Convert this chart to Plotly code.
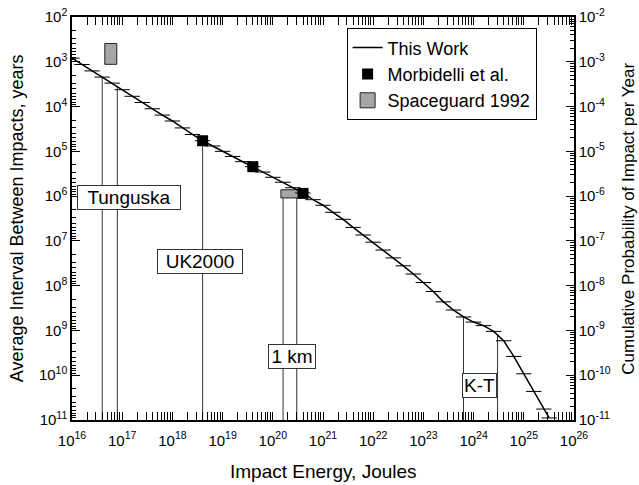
import plotly.graph_objects as go

# ---------------- data ----------------
# "This Work" cumulative curve: impact energy (J) vs average interval (years)
energy_j = [1.0e16, 1.58e16, 2.51e16, 3.98e16, 6.31e16,
            1.0e17, 1.58e17, 2.51e17, 3.98e17, 6.31e17,
            1.0e18, 1.58e18, 2.51e18, 3.98e18, 6.31e18,
            1.0e19, 1.58e19, 2.51e19, 3.98e19, 6.31e19,
            1.0e20, 1.58e20, 2.51e20, 3.98e20, 6.31e20,
            1.0e21, 1.58e21, 2.51e21, 3.98e21, 6.31e21,
            1.0e22, 1.58e22, 2.51e22, 3.98e22, 6.31e22,
            1.0e23, 1.58e23, 2.51e23, 3.98e23, 6.31e23,
            1.0e24, 1.58e24, 2.51e24, 3.98e24, 6.31e24,
            1.0e25, 1.58e25, 2.51e25, 3.2e25]
interval_yr = [8.3e2, 1.15e3, 1.6e3, 2.2e3, 3.0e3,
               4.2e3, 5.9e3, 8.1e3, 1.12e4, 1.55e4,
               2.1e4, 3.0e4, 4.2e4, 5.8e4, 7.6e4,
               1.0e5, 1.3e5, 1.7e5, 2.2e5, 2.9e5,
               3.8e5, 4.9e5, 6.5e5, 8.5e5, 1.2e6,
               1.6e6, 2.3e6, 3.3e6, 5.0e6, 7.4e6,
               1.07e7, 1.6e7, 2.4e7, 3.6e7, 5.5e7,
               8.5e7, 1.35e8, 2.3e8, 3.5e8, 5.0e8,
               6.5e8, 7.8e8, 1.05e9, 1.7e9, 3.8e9,
               9.3e9, 2.3e10, 5.7e10, 9.0e10]

# Morbidelli et al.
morb_energy = [4.0e18, 4.0e19, 4.0e20]
morb_interval = [5.8e4, 2.2e5, 8.7e5]

# Spaceguard 1992 boxes
sg_energy_lo = [4.5e16, 1.45e20]
sg_energy_hi = [7.8e16, 3.5e20]
sg_interval_lo = [3.9e2, 7.2e5]
sg_interval_hi = [1.14e3, 1.1e6]

# Event marker lines (energy, interval at top of line)
event_energy = [4.0e16, 8.0e16, 4.0e18, 1.6e20, 3.0e20, 6.3e23, 3.0e24]
event_top = [2.3e3, 3.5e3, 5.8e4, 1.1e6, 1.1e6, 5.0e8, 1.3e9]
event_labels = ["Tunguska", "UK2000", "1 km", "K-T"]

x_tick_exp = list(range(16, 27))
y_tick_exp = list(range(2, 12))

# ---------------- figure ----------------
FONT = "Arial, Liberation Sans, sans-serif"
fig = go.Figure()

# vertical event lines
for e, t in zip(event_energy, event_top):
    fig.add_trace(go.Scatter(x=[e, e], y=[t, 1e11], mode="lines",
                             line=dict(color="#333333", width=1),
                             showlegend=False, hoverinfo="skip"))

# spaceguard boxes
sx, sy = [], []
for x0, x1, y0, y1 in zip(sg_energy_lo, sg_energy_hi, sg_interval_lo, sg_interval_hi):
    sx += [x0, x1, x1, x0, x0, None]
    sy += [y0, y0, y1, y1, y0, None]
fig.add_trace(go.Scatter(x=sx, y=sy, mode="lines", fill="toself",
                         fillcolor="#a6a6a6", line=dict(color="#222222", width=1),
                         showlegend=False, hoverinfo="skip"))

# This Work curve
fig.add_trace(go.Scatter(x=energy_j, y=interval_yr, mode="lines",
                         line=dict(color="black", width=1.5),
                         name="This Work", legendrank=1))
fig.add_trace(go.Scatter(x=energy_j, y=interval_yr, mode="markers",
                         marker=dict(symbol="line-ew", size=11,
                                     line=dict(color="black", width=1)),
                         showlegend=False, hoverinfo="skip"))

# Morbidelli
fig.add_trace(go.Scatter(x=morb_energy, y=morb_interval, mode="markers",
                         marker=dict(symbol="square", size=11, color="black"),
                         name="Morbidelli et al.", legendrank=2))

# legend entry for Spaceguard boxes
fig.add_trace(go.Scatter(x=[None], y=[None], mode="markers",
                         marker=dict(symbol="square", size=15, color="#a6a6a6",
                                     line=dict(color="#222222", width=1)),
                         name="Spaceguard 1992", legendrank=3))

# dummy trace for right axis
fig.add_trace(go.Scatter(x=[1e16], y=[1e-5], yaxis="y2", mode="markers",
                         marker=dict(opacity=0), showlegend=False, hoverinfo="skip"))

def minor_vals(lo, hi):
    vals = []
    for d in range(lo, hi):
        for m in range(2, 10):
            vals.append(m * 10.0 ** d)
    return vals

axis_common = dict(type="log", showgrid=False, zeroline=False, showline=True,
                   automargin=False,
                   linecolor="black", linewidth=1.5, ticks="inside", ticklen=8,
                   tickwidth=1.2, tickcolor="black",
                   tickfont=dict(family=FONT, size=15, color="black"))

fig.update_layout(
    width=639, height=485,
    margin=dict(l=72, r=65, t=17, b=65, autoexpand=False),
    paper_bgcolor="white", plot_bgcolor="white",
    font=dict(family=FONT, color="black"),
    xaxis=dict(axis_common, range=[16, 26], mirror="allticks",
               ticklabelstandoff=6,
               tickmode="array", tickvals=[10.0 ** e for e in x_tick_exp],
               ticktext=["10<sup>%d</sup>" % e for e in x_tick_exp],
               minor=dict(tickmode="array", tickvals=minor_vals(16, 26),
                          ticks="inside", ticklen=4, tickcolor="black")),
    yaxis=dict(axis_common, range=[11, 2],
               tickmode="array", tickvals=[10.0 ** e for e in y_tick_exp],
               ticktext=["10<sup>%d</sup>" % e for e in y_tick_exp],
               minor=dict(tickmode="array", tickvals=minor_vals(2, 11),
                          ticks="inside", ticklen=4, tickcolor="black")),
    yaxis2=dict(axis_common, range=[-11, -2], overlaying="y", side="right",
                tickmode="array", tickvals=[10.0 ** -e for e in y_tick_exp],
                ticktext=["10<sup>-%d</sup>" % e for e in y_tick_exp],
                minor=dict(tickmode="array", tickvals=minor_vals(-11, -2),
                           ticks="inside", ticklen=4, tickcolor="black")),
    legend=dict(x=0.547, y=0.972, xanchor="left", yanchor="top",
                bordercolor="black", borderwidth=1, bgcolor="white",
                font=dict(family=FONT, size=18, color="black"),
                tracegroupgap=0, itemsizing="trace"),
    showlegend=True,
)

# event label boxes
label_pos = [(17.13, 6.04, 100), (18.55, 7.47, 82), (20.39, 9.58, 44), (24.12, 10.23, 31)]
for txt, (lx, ly, w) in zip(event_labels, label_pos):
    fig.add_annotation(x=lx, y=ly, xref="x", yref="y", text=txt, showarrow=False,
                       font=dict(family=FONT, size=19, color="black"),
                       bgcolor="white", bordercolor="#333333", borderwidth=1,
                       borderpad=1, width=w, align="center")

# axis titles
fig.add_annotation(x=0.5, y=-0.128, xref="paper", yref="paper",
                   text="Impact Energy, Joules", showarrow=False,
                   xanchor="center", yanchor="middle",
                   font=dict(family=FONT, size=19, color="black"))
fig.add_annotation(x=-0.11, y=0.5, xref="paper", yref="paper",
                   text="Average Interval Between Impacts, years", showarrow=False,
                   textangle=-90, xanchor="center", yanchor="middle",
                   font=dict(family=FONT, size=18, color="black"))
fig.add_annotation(x=1.108, y=0.5, xref="paper", yref="paper",
                   text="Cumulative Probability of Impact per Year", showarrow=False,
                   textangle=-90, xanchor="center", yanchor="middle",
                   font=dict(family=FONT, size=17, color="black"))

fig.write_html("out.html")
